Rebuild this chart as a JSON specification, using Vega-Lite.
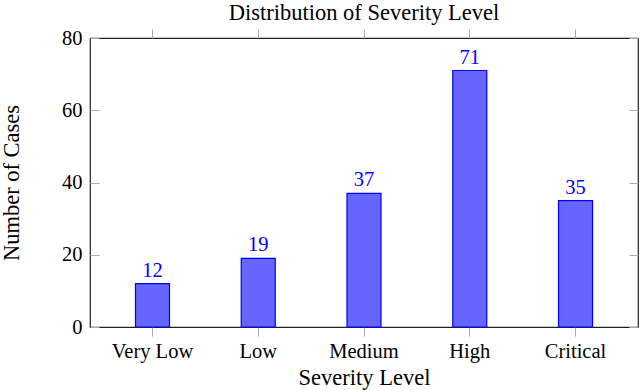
{
  "$schema": "https://vega.github.io/schema/vega-lite/v6.json",
  "autosize": "none",
  "width": 548,
  "height": 289,
  "padding": {"left": 90, "top": 38, "right": 2, "bottom": 63},
  "background": "white",
  "title": {"text": "Distribution of Severity Level", "font": "Liberation Serif", "fontSize": 22.5, "fontWeight": "normal", "color": "black", "offset": 4, "anchor": "middle"},
  "config": {
    "view": {"stroke": "#222", "strokeWidth": 1.2},
    "font": "Liberation Serif",
    "axis": {"labelFont": "Liberation Serif", "titleFont": "Liberation Serif", "labelFontSize": 20.5, "titleFontSize": 22.5, "titleFontWeight": "normal", "labelColor": "black", "titleColor": "black", "tickColor": "#aaaaaa", "grid": false, "domain": false}
  },
  "data": {"values": [
    {"level": "Very Low", "cases": 12},
    {"level": "Low", "cases": 19},
    {"level": "Medium", "cases": 37},
    {"level": "High", "cases": 71},
    {"level": "Critical", "cases": 35}
  ]},
  "layer": [
    {
      "mark": {"type": "bar", "fill": "#6666ff", "stroke": "#0000ff", "strokeWidth": 1.2},
      "encoding": {
        "x": {"field": "level", "type": "nominal", "sort": null,
              "scale": {"paddingInner": 0.6785, "paddingOuter": 0.43},
              "axis": {"title": "Severity Level", "labelAngle": 0, "tickSize": 9, "labelPadding": 5, "titlePadding": 5}},
        "y": {"field": "cases", "type": "quantitative",
              "scale": {"domain": [0, 80], "nice": false},
              "axis": {"title": "Number of Cases", "values": [0, 20, 40, 60, 80], "tickSize": -9, "labelPadding": 17, "titlePadding": 38}}
      }
    },
    {
      "mark": {"type": "text", "color": "#0000ff", "fontSize": 20.5, "font": "Liberation Serif", "baseline": "alphabetic", "dy": -7},
      "encoding": {
        "x": {"field": "level", "type": "nominal", "sort": null,
              "axis": {"orient": "top", "title": null, "labels": false, "tickSize": 9}},
        "y": {"field": "cases", "type": "quantitative",
              "axis": {"orient": "right", "title": null, "labels": false, "values": [0, 20, 40, 60, 80], "tickSize": -9}},
        "text": {"field": "cases", "type": "quantitative"}
      }
    }
  ],
  "resolve": {"axis": {"x": "independent", "y": "independent"}}
}
